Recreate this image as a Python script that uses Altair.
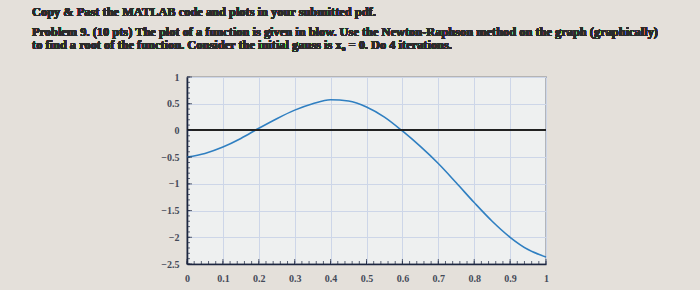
import altair as alt
import pandas as pd

# ---- data ----
x_vals = [0.0, 0.05, 0.1, 0.15, 0.2, 0.25, 0.3, 0.35, 0.4, 0.45, 0.5,
          0.55, 0.6, 0.65, 0.7, 0.75, 0.8, 0.85, 0.9, 0.95, 1.0]
y_vals = [-0.5, -0.43, -0.31, -0.15, 0.04, 0.22, 0.38, 0.50, 0.575, 0.55, 0.44,
          0.25, -0.01, -0.30, -0.62, -0.98, -1.35, -1.70, -2.00, -2.23, -2.37]

x_ticks = [0, 0.1, 0.2, 0.3, 0.4, 0.5, 0.6, 0.7, 0.8, 0.9, 1]
y_ticks = [1, 0.5, 0, -0.5, -1, -1.5, -2, -2.5]
x_minor = [round(i * 0.02, 2) for i in range(51)]
y_minor = [round(-2.5 + i * 0.1, 1) for i in range(36)]

header_1 = "Copy & Past the MATLAB code and plots in your submitted pdf."
header_2 = ("Problem 9. (10 pts) The plot of a function is given in blow. "
            "Use the Newton-Raphson method on the graph (graphically)")
header_3 = "to find a root of the function. Consider the initial gauss is  x\u2080 = 0. Do 4 iterations."

curve = pd.DataFrame({"x": x_vals, "y": y_vals})

FONT = "Liberation Serif"
xscale = alt.Scale(domain=[0, 1], nice=False, zero=False)
yscale = alt.Scale(domain=[-2.5, 1], nice=False, zero=False)

common = dict(title=None, ticks=False, labelFont=FONT, labelFontSize=10,
              labelFontWeight="bold", labelColor="#444a58",
              domainColor="#1c2640", domainWidth=1.6, gridColor="#cdd6e8",
              gridWidth=1, labelFlush=False, labelOverlap=False, format="~g")
xaxis = alt.Axis(values=x_ticks, labelPadding=9, **common)
yaxis = alt.Axis(values=y_ticks, labelPadding=8, **common)

line = alt.Chart(curve).mark_line(color="#2f7fc1", strokeWidth=1.6,
                                  interpolate="monotone").encode(
    x=alt.X("x:Q", scale=xscale, axis=xaxis),
    y=alt.Y("y:Q", scale=yscale, axis=yaxis),
)

zero = alt.Chart(curve).mark_rule(color="#222222", strokeWidth=1.2).encode(
    y=alt.Y(datum=0, scale=yscale, axis=yaxis)
)

xmin_df = pd.DataFrame({"t": x_minor})
ymin_df = pd.DataFrame({"t": y_minor})
xmaj_df = pd.DataFrame({"t": x_ticks})
ymaj_df = pd.DataFrame({"t": y_ticks})

def xtick(df, size):
    return alt.Chart(df).mark_tick(orient="vertical", size=size, thickness=1,
                                   color="#1c2640", yOffset=-size / 2).encode(
        x=alt.X("t:Q", scale=xscale, axis=xaxis),
        y=alt.Y(datum=-2.5, scale=yscale, axis=yaxis))

def ytick(df, size):
    return alt.Chart(df).mark_tick(orient="horizontal", size=size, thickness=1,
                                   color="#1c2640", xOffset=size / 2).encode(
        y=alt.Y("t:Q", scale=yscale, axis=yaxis),
        x=alt.X(datum=0, scale=xscale, axis=xaxis))

xminor = xtick(xmin_df, 3)
xmajor = xtick(xmaj_df, 5)
yminor = ytick(ymin_df, 3)
ymajor = ytick(ymaj_df, 5)

def header(txt, ypix):
    return alt.Chart(curve).mark_text(
        text=txt, align="left", baseline="middle", font=FONT, fontSize=12.4,
        fontWeight="bold", color="#2b2b2b", clip=False
    ).encode(x=alt.value(-155), y=alt.value(ypix))

h1 = header(header_1, -65)
h2 = header(header_2, -45)
h3 = header(header_3, -32)

chart = alt.layer(line, zero, xminor, xmajor, yminor, ymajor, h1, h2, h3).properties(
    width=359, height=187,
    autosize=alt.AutoSizeParams(type="none"),
    padding={"left": 187, "top": 77, "right": 154, "bottom": 26},
    background="#e4e0da",
).configure_view(
    fill="#eef0f0", stroke="#2a3040", strokeWidth=1.2
)

chart.save("out.html", embed_options={"renderer": "svg", "actions": False})
